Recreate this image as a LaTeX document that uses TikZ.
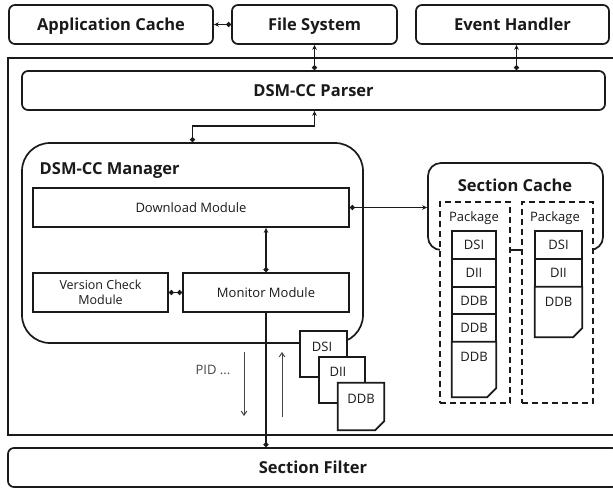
\documentclass[tikz,border=0pt]{standalone}
\usepackage{fontspec}
\setmainfont{Open Sans}
\usetikzlibrary{arrows.meta,calc}
\definecolor{ink}{HTML}{1A1A1A}
\definecolor{softink}{HTML}{444444}
\begin{document}
\begin{tikzpicture}[x=1pt,y=-1pt,
  every node/.style={text=ink},
  frameline/.style={draw=ink, line width=1.7pt},
  topbox/.style={frameline, rounded corners=6pt, fill=white, inner sep=0pt, text height=12pt, text depth=0pt, font=\bfseries\fontsize{16.5}{19}\selectfont},
  heading/.style={inner sep=0pt, text height=12pt, text depth=0pt, font=\bfseries\fontsize{16.5}{19}\selectfont},
  modbox/.style={frameline, fill=white, inner sep=0pt, font=\fontsize{13}{15}\selectfont},
  cell/.style={frameline, fill=white, inner sep=0pt, text height=9.5pt, text depth=0pt, font=\fontsize{13}{15}\selectfont},
  celltext/.style={inner sep=0pt, text height=9.5pt, text depth=0pt, font=\fontsize{13}{15}\selectfont},
  pkgbox/.style={draw=ink, line width=1.7pt, dash pattern=on 6pt off 4pt, fill=white, inner sep=0pt},
  conn/.style={draw=ink, line width=1.4pt},
  dotarrow/.style={conn, {Circle[length=5pt]}-{Stealth[length=5pt,width=4.5pt]}},
  dotdot/.style={conn, {Circle[length=5pt]}-{Circle[length=5pt]}},
  dotend/.style={conn, -{Circle[length=5pt]}},
  pidarrow/.style={draw=softink, line width=1pt, -{Straight Barb[length=4pt,width=5.5pt]}}
]
\useasboundingbox (0,0) rectangle (613,490);

% outer frame and parser
\node[frameline, inner sep=0pt, minimum width=622pt, minimum height=377pt] (frame) at (319,246.5) {};
\node[topbox, minimum width=583pt, minimum height=39pt] (parser) at (313.5,90.5) {DSM-CC Parser};

% top boxes
\node[topbox, minimum width=204pt, minimum height=39pt] (appcache) at (111,24.5) {Application Cache};
\node[topbox, minimum width=165pt, minimum height=39pt] (fs) at (314.5,24.5) {File System};
\node[topbox, minimum width=193pt, minimum height=39pt] (eh) at (512.5,24.5) {Event Handler};

% section filter
\node[topbox, minimum width=610pt, minimum height=39pt] (filter) at (313,467.5) {Section Filter};

% manager
\node[frameline, rounded corners=28pt, fill=white, inner sep=0pt, minimum width=341pt, minimum height=200pt] (manager) at (192.5,243) {};
\node[heading, anchor=west] (mgrlabel) at (39.5,168) {DSM-CC Manager};
\node[modbox, minimum width=316pt, minimum height=39pt, text height=9.5pt, text depth=0pt] (download) at (191,207.5) {Download Module};
\node[modbox, minimum width=135pt, minimum height=39pt, align=center, font=\fontsize{12.5}{15}\selectfont] (vcm) at (100.5,292.5) {Version Check\\Module};
\node[modbox, minimum width=166pt, minimum height=39pt, text height=9.5pt, text depth=0pt] (monitor) at (266,292.5) {Monitor Module};

% connectors
\draw[dotarrow] (fs.west) -- (appcache.east);
\draw[dotarrow] (fs.south |- parser.north) -- (fs.south);
\draw[dotarrow] ([xshift=4pt]eh.south |- parser.north) -- ([xshift=4pt]eh.south);
\coordinate (bend) at (193,126);
\draw[dotarrow] (manager.north) |- (bend) -| (fs.south |- parser.south);
\draw[dotarrow] (monitor.north) -- (monitor.north |- download.south);
\draw[dotdot] (vcm.east) -- (monitor.west);
\draw[dotend] (monitor.south) -- (monitor.south |- filter.north);

% PID arrows
\coordinate (pidA) at (244,352);
\coordinate (pidB) at (244,416);
\coordinate (pidC) at (282,417);
\coordinate (pidD) at (282,352);
\draw[pidarrow] (pidA) -- (pidB);
\draw[pidarrow] (pidC) -- (pidD);
\node[inner sep=0pt, text=softink, text height=9.5pt, text depth=0pt, font=\fontsize{13}{15}\selectfont] (pid) at (213,370) {PID ...};

% section table documents
\node[cell, minimum width=47pt, minimum height=46pt] (dsi) at (323.5,354) {};
\node[celltext] (dsit) at (322,347) {DSI};
\node[cell, minimum width=46pt, minimum height=46pt] (dii) at (342,380) {};
\node[celltext] (diit) at (338,372) {DII};
\node[inner sep=0pt, minimum width=46pt, minimum height=47pt] (ddb) at (361,406.5) {};
\draw[frameline, fill=white] (ddb.north west) -- (ddb.north east) -- ([yshift=9pt]ddb.south east) -- ([xshift=-9pt]ddb.south east) -- (ddb.south west) -- cycle;
\fill[ink] ([yshift=9pt]ddb.south east) .. controls ([xshift=-6pt,yshift=4pt]ddb.south east) .. ([xshift=-9pt]ddb.south east) -- cycle;
\node[celltext] (ddbt) at (361,399) {DDB};

% section cache
\node[frameline, rounded corners=13pt, fill=white, inner sep=0pt, minimum width=175pt, minimum height=87pt] (cache) at (515.5,206.5) {};
\node[heading] (cachelabel) at (515,185) {Section Cache};
\draw[dotarrow] (download.east) -- (download.east -| cache.west);

\node[pkgbox, minimum width=70pt, minimum height=201pt] (pkgA) at (475,302.5) {};
\node[pkgbox, minimum width=71pt, minimum height=201pt] (pkgB) at (557.5,302.5) {};
\node[celltext] (pkgAt) at (474,217) {Package};
\node[celltext] (pkgBt) at (555,217) {Package};

% stack 1
\node[cell, minimum width=44pt, minimum height=28pt] (a1) at (474,245) {DSI};
\node[cell, minimum width=44pt, minimum height=28pt] (a2) at (474,273) {DII};
\node[cell, minimum width=44pt, minimum height=27pt] (a3) at (474,300.5) {DDB};
\node[cell, minimum width=44pt, minimum height=28pt] (a4) at (474,328) {DDB};
\node[inner sep=0pt, minimum width=44pt, minimum height=55pt] (a5) at (474,369.5) {};
\draw[frameline, fill=white] (a5.north west) -- (a5.north east) -- ([yshift=9pt]a5.south east) -- ([xshift=-9pt]a5.south east) -- (a5.south west) -- cycle;
\fill[ink] ([yshift=9pt]a5.south east) .. controls ([xshift=-6pt,yshift=4pt]a5.south east) .. ([xshift=-9pt]a5.south east) -- cycle;
\node[celltext] (a5t) at (474,357) {DDB};

% stack 2
\node[cell, minimum width=47pt, minimum height=28pt] (b1) at (558.5,245) {DSI};
\node[cell, minimum width=47pt, minimum height=28pt] (b2) at (558.5,273) {DII};
\node[inner sep=0pt, minimum width=47pt, minimum height=50pt] (b3) at (558.5,312) {};
\draw[frameline, fill=white] (b3.north west) -- (b3.north east) -- ([yshift=9pt]b3.south east) -- ([xshift=-9pt]b3.south east) -- (b3.south west) -- cycle;
\fill[ink] ([yshift=9pt]b3.south east) .. controls ([xshift=-6pt,yshift=4pt]b3.south east) .. ([xshift=-9pt]b3.south east) -- cycle;
\node[celltext] (b3t) at (558.5,302) {DDB};
\end{tikzpicture}
\end{document}
